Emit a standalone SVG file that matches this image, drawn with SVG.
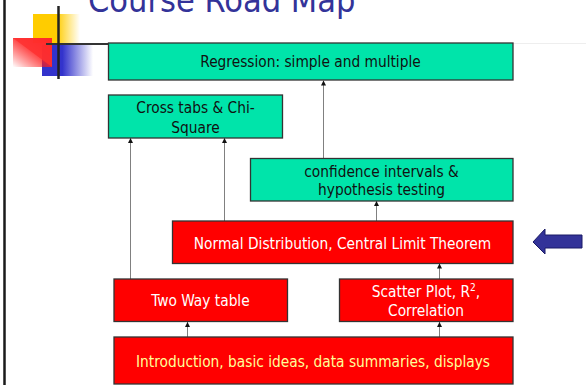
<svg xmlns="http://www.w3.org/2000/svg" width="586" height="385" viewBox="0 0 586 385">
<defs>
<style>
.t{font-family:"DejaVu Sans Condensed","DejaVu Sans",sans-serif;font-size:15.3px;text-anchor:middle}
.g{fill:#00E4AA;stroke:#333;stroke-width:1.3}
.r{fill:#FF0000;stroke:#333;stroke-width:1.3}
.k{fill:#111}
.w{fill:#fff}
.y{fill:#FFFF99}
.c{stroke:#808080;stroke-width:1;fill:none;marker-end:url(#ah)}
</style>
<marker id="ah" markerWidth="5" markerHeight="5" refX="5" refY="2.5" orient="auto" markerUnits="userSpaceOnUse">
<path d="M0,0 L5,2.5 L0,5 z" fill="#111"/>
</marker>
<linearGradient id="gy" x1="0" y1="0" x2="1" y2="0">
<stop offset="0.5" stop-color="#FFCC00"/>
<stop offset="1" stop-color="#FFCC00" stop-opacity="0"/>
</linearGradient>
<linearGradient id="gb" x1="0" y1="0" x2="1" y2="0">
<stop offset="0.4" stop-color="#3333CC"/>
<stop offset="1" stop-color="#3333CC" stop-opacity="0"/>
</linearGradient>
<linearGradient id="gr" x1="0" y1="1" x2="1" y2="0">
<stop offset="0" stop-color="#FF0000" stop-opacity="0"/>
<stop offset="0.5" stop-color="#FF2020" stop-opacity="0.8"/>
<stop offset="1" stop-color="#FF0000"/>
</linearGradient>
</defs>
<rect width="586" height="385" fill="#fff"/>
<g id="decor">
<line x1="4.5" y1="0" x2="4.5" y2="385" stroke="#1a1a1a" stroke-width="2.5"/>
<rect x="33" y="14" width="47" height="29" fill="url(#gy)"/>
<rect x="42" y="45" width="51" height="31" fill="url(#gb)"/>
<rect x="13" y="38" width="39" height="29" fill="url(#gr)"/>
<polygon points="13,38 52,38 52,67" fill="#FF3030" opacity="0.85"/>
<line x1="513" y1="43.5" x2="586" y2="43.5" stroke="#eeeeee" stroke-width="1"/>
<line x1="46" y1="44" x2="108" y2="44" stroke="#333" stroke-width="2"/>
<line x1="58.5" y1="6" x2="58.5" y2="79" stroke="#222" stroke-width="2.5"/>
<text x="88" y="12" font-family="DejaVu Sans Condensed, DejaVu Sans, sans-serif" font-size="34" fill="#333399">Course Road Map</text>
<polygon points="533,242 545,229 545,235 582,235 582,248 545,248 545,254" fill="#333399" stroke="#1a1a66" stroke-width="1"/>
</g>
<g id="connectors">
<line class="c" x1="187.5" y1="337" x2="187.5" y2="322"/>
<line class="c" x1="439.5" y1="337" x2="439.5" y2="322"/>
<line class="c" x1="439.5" y1="279" x2="439.5" y2="263.5"/>
<line class="c" x1="376.5" y1="221" x2="376.5" y2="201"/>
<line class="c" x1="130.5" y1="279" x2="130.5" y2="138"/>
<line class="c" x1="224.5" y1="221" x2="224.5" y2="138"/>
<line class="c" x1="323.5" y1="158" x2="323.5" y2="80.5"/>
</g>
<g id="regression">
<rect class="g" x="108.5" y="43" width="404.5" height="37"/>
<text class="t k" x="310.5" y="67">Regression: simple and multiple</text>
</g>
<g id="crosstabs">
<rect class="g" x="108.5" y="95" width="174" height="43"/>
<text class="t k" x="195.5" y="113">Cross tabs &amp; Chi-</text>
<text class="t k" x="195.5" y="132.5">Square</text>
</g>
<g id="confidence">
<rect class="g" x="250.5" y="158.5" width="262.5" height="42.5"/>
<text class="t k" x="381.5" y="176.5">confidence intervals &amp;</text>
<text class="t k" x="381.5" y="195">hypothesis testing</text>
</g>
<g id="normal">
<rect class="r" x="172.5" y="221" width="340.5" height="42.5"/>
<text class="t w" x="342.5" y="249">Normal Distribution, Central Limit Theorem</text>
</g>
<g id="twoway">
<rect class="r" x="114" y="279" width="173.5" height="42.5"/>
<text class="t w" x="200.5" y="306">Two Way table</text>
</g>
<g id="scatter">
<rect class="r" x="339.5" y="279" width="173.5" height="42.5"/>
<text class="t w" x="426" y="296.5">Scatter Plot, R<tspan font-size="10" dy="-6">2</tspan><tspan dy="6">,</tspan></text>
<text class="t w" x="426" y="315.5">Correlation</text>
</g>
<g id="intro">
<rect class="r" x="114" y="337" width="399" height="47"/>
<text class="t y" x="313" y="366.5">Introduction, basic ideas, data summaries, displays</text>
</g>
</svg>
